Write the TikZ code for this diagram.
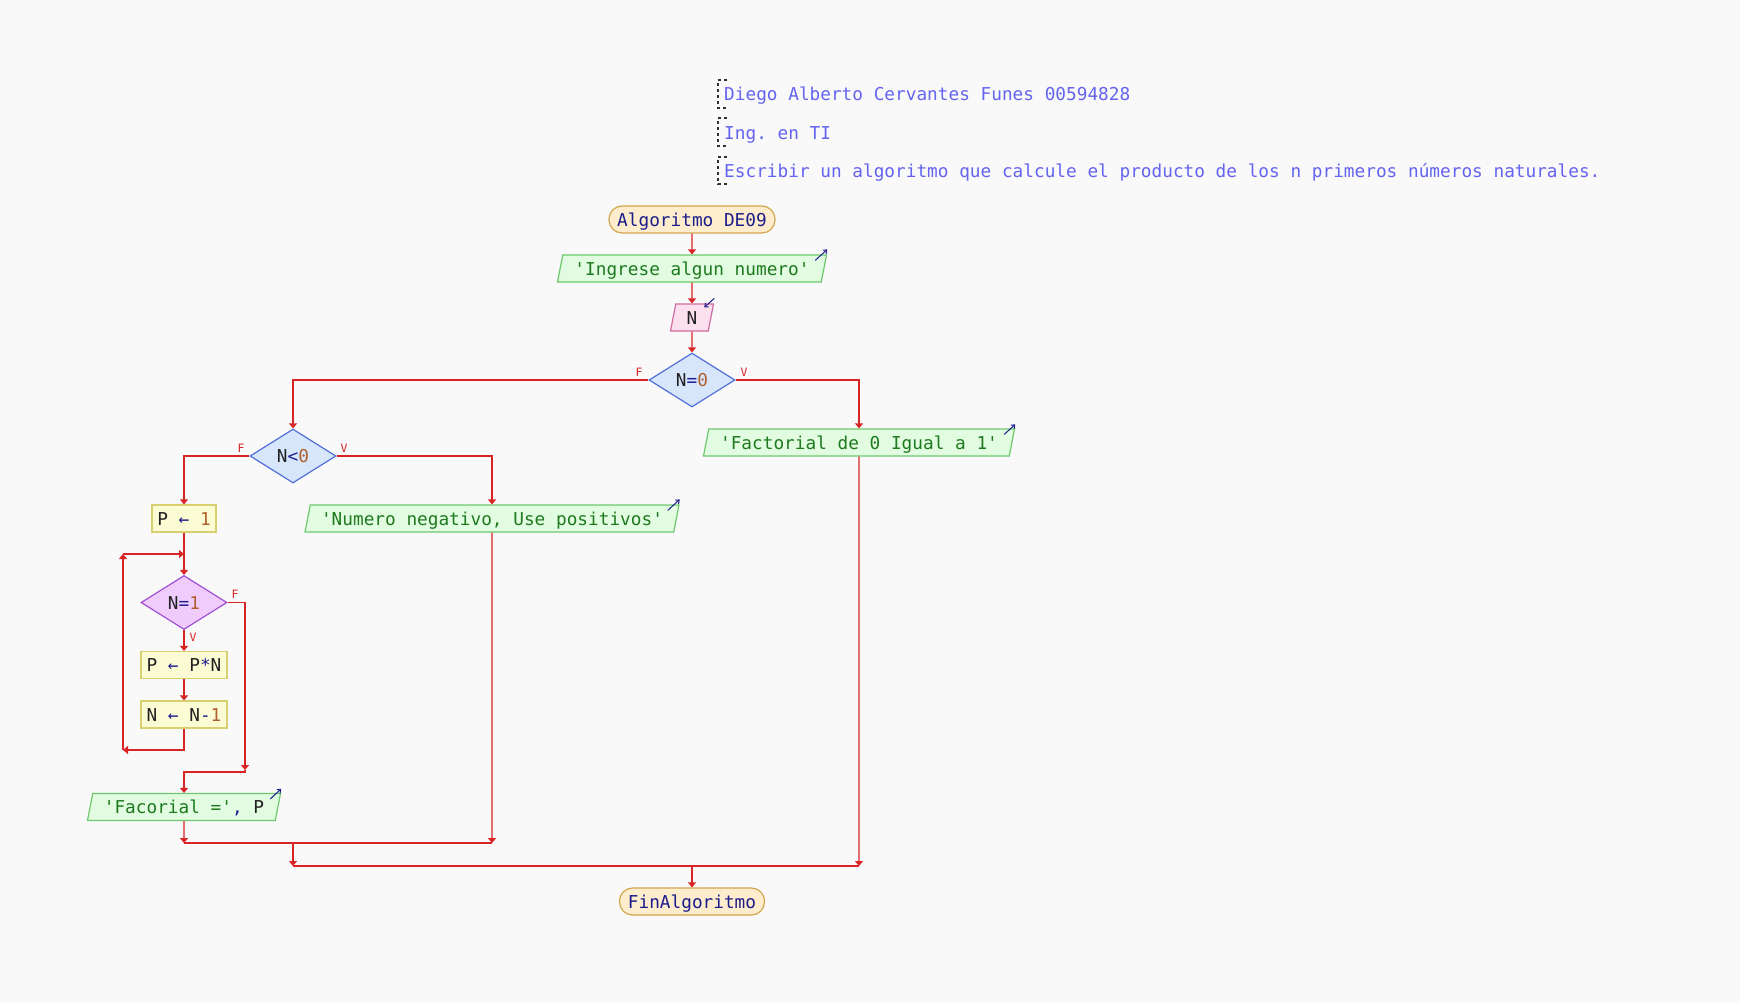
\documentclass[tikz,border=0pt]{standalone}
\usepackage{fontspec}
\setmonofont{DejaVu Sans Mono}
\usetikzlibrary{shapes.geometric,arrows.meta}

% palette
\definecolor{bgc}{HTML}{F9F9F9}
\definecolor{flowred}{HTML}{D82424}
\definecolor{termfill}{HTML}{FDEDCC}
\definecolor{termdraw}{HTML}{D2A64E}
\definecolor{outfill}{HTML}{E2FCE2}
\definecolor{outdraw}{HTML}{6EC86E}
\definecolor{infill}{HTML}{FCE0EE}
\definecolor{indraw}{HTML}{D06CA0}
\definecolor{decfill}{HTML}{D8E6FC}
\definecolor{decdraw}{HTML}{5070D8}
\definecolor{loopfill}{HTML}{F0CCFC}
\definecolor{loopdraw}{HTML}{A050D0}
\definecolor{procfill}{HTML}{FCFCD4}
\definecolor{procdraw}{HTML}{D8D070}
\definecolor{strgreen}{HTML}{1E7A1E}
\definecolor{kwnavy}{HTML}{1C1C8C}
\definecolor{numbrown}{HTML}{B0602E}
\definecolor{txtdark}{HTML}{202020}
\definecolor{cmtblue}{HTML}{6464F0}
\definecolor{cmtmark}{HTML}{303030}

% syntax colouring helpers
\newcommand{\opc}[1]{{\color{kwnavy}#1}}
\newcommand{\numc}[1]{{\color{numbrown}#1}}
\newcommand{\varc}[1]{{\color{txtdark}#1}}
\newcommand{\strc}[1]{{\color{strgreen}#1}}

\begin{document}
\begin{tikzpicture}[x=1pt,y=-1pt,
  every node/.style={font=\ttfamily\fontsize{17.75}{20}\selectfont, inner sep=0pt,
    text height=13pt, text depth=0pt},
  terminal/.style={rectangle, rounded corners=13pt, draw=termdraw, fill=termfill,
    line width=1.2pt, minimum height=27pt, text=kwnavy},
  outbox/.style={trapezium, trapezium left angle=68, trapezium right angle=112,
    trapezium stretches body, draw=outdraw, fill=outfill, line width=1.2pt,
    minimum height=27pt, text=strgreen},
  inbox/.style={trapezium, trapezium left angle=68, trapezium right angle=112,
    trapezium stretches body, draw=indraw, fill=infill, line width=1.2pt,
    minimum height=27pt, text=txtdark},
  decision/.style={diamond, draw=decdraw, fill=decfill, line width=1.2pt,
    minimum width=86pt, minimum height=54pt, text=txtdark},
  loopdec/.style={decision, draw=loopdraw, fill=loopfill},
  procbox/.style={rectangle, draw=procdraw, fill=procfill, line width=1.2pt,
    minimum height=27pt, text=txtdark},
  flow/.style={draw=flowred, line width=1.2pt, -{Triangle[width=8pt,length=5pt]}},
  plainflow/.style={draw=flowred, line width=1.2pt},
  branchlbl/.style={font=\ttfamily\fontsize{11.5}{12}\selectfont, text=flowred,
    text height=8.5pt, text depth=0pt},
  iomark/.style={draw=kwnavy, line width=1pt, -{Straight Barb[length=3pt,width=5pt]}},
  cmtbracket/.style={draw=cmtmark, line width=1.5pt, dash pattern=on 3pt off 3pt},
  comment/.style={anchor=west, text=cmtblue}]

% page
\fill[bgc] (0,0) rectangle (1740,1002);
\useasboundingbox (0,0) rectangle (1740,1002);

% header comments
\draw[cmtbracket] (727,80) -| (718,108) -- (727,108);
\draw[cmtbracket] (727,118) -| (718,146) -- (727,146);
\draw[cmtbracket, line width=2pt] (727,157) -| (718,184) -- (727,184);
\node[comment] (c1) at (724,94) {Diego Alberto Cervantes Funes 00594828};
\node[comment] (c2) at (724,132.5) {Ing. en TI};
\node[comment] (c3) at (724,170.5) {Escribir un algoritmo que calcule el producto de los n primeros números naturales.};

% flowchart nodes
\node[terminal, minimum width=166pt] (start) at (692,219.5) {Algoritmo DE09};
\node[outbox, minimum width=269pt] (in1) at (692,268.5) {'Ingrese algun numero'};
\node[inbox, minimum width=43pt] (readN) at (692,317.5) {N};
\node[decision] (d0) at (692,380) {\varc{N}\opc{=}\numc{0}};
\node[outbox, minimum width=311pt] (outF) at (859,442.5) {'Factorial de 0 Igual a 1'};
\node[decision] (d1) at (293,456) {\varc{N}\opc{<}\numc{0}};
\node[outbox, minimum width=374pt] (outNeg) at (492,518.5) {'Numero negativo, Use positivos'};
\node[procbox, minimum width=64pt] (p1) at (184,518.5) {\varc{P} \opc{←} \numc{1}};
\node[loopdec] (d2) at (184,602.5) {\varc{N}\opc{=}\numc{1}};
\node[procbox, minimum width=86pt] (p2) at (184,665) {\varc{P} \opc{←} \varc{P}\opc{*}\varc{N}};
\node[procbox, minimum width=86pt] (p3) at (184,714.5) {\varc{N} \opc{←} \varc{N}\opc{-}\numc{1}};
\node[outbox, minimum width=193pt] (out3) at (184,807) {'Facorial ='\opc{,} \varc{P}};
\node[terminal, minimum width=145pt] (fin) at (692,901.5) {FinAlgoritmo};

% input/output markers
\draw[iomark] ([xshift=-12pt,yshift=-6pt]in1.top right corner) -- ++(12,-11);
\draw[iomark] ([xshift=-11pt,yshift=-6pt]outF.top right corner) -- ++(11,-10);
\draw[iomark] ([xshift=-12pt,yshift=-6pt]outNeg.top right corner) -- ++(12,-11);
\draw[iomark] ([xshift=-11pt,yshift=-6pt]out3.top right corner) -- ++(11,-10);
\draw[iomark] ([xshift=0pt,yshift=5pt]readN.top right corner) -- ++(-10,9);

% junction points
\coordinate (lpB) at (123,750);
\coordinate (lpC) at (123,554);
\coordinate (lpD) at (184,554);
\coordinate (jA) at (245,770);
\coordinate (jB) at (184,843);
\coordinate (jC) at (492,843);
\coordinate (jD) at (293,843);
\coordinate (jE) at (293,866);
\coordinate (jF) at (859,866);
\coordinate (jG) at (692,866);

% connectors
\draw[flow] (start.south) -- (in1.north);
\draw[flow] (in1.south) -- (readN.north);
\draw[flow] (readN.south) -- (d0.north);
\draw[flow] (d0.west) -| (d1.north);
\draw[flow] (d0.east) -| (outF.north);
\draw[flow] (d1.west) -| (p1.north);
\draw[flow] (d1.east) -| (outNeg.north);
\draw[flow] (p1.south) -- (d2.north);
\draw[flow] (d2.south) -- (p2.north);
\draw[flow] (p2.south) -- (p3.north);
\draw[flow] (p3.south) |- (lpB);
\draw[flow] (lpB) -- (lpC);
\draw[flow] (lpC) -- (lpD);
\draw[flow] (d2.east) -| (jA);
\draw[flow] (jA) -- ++(0,2) -| (out3.north);
\draw[flow] (out3.south) -- (jB);
\draw[plainflow] (jB) -- (jC);
\draw[flow] (outNeg.south) -- (jC);
\draw[flow] (jD) -- (jE);
\draw[plainflow] (jE) -- (jF);
\draw[flow] (outF.south) -- (jF);
\draw[flow] (jG) -- (fin.north);

% branch labels
\node[branchlbl] (f0) at (639,372) {F};
\node[branchlbl] (v0) at (744,372) {V};
\node[branchlbl] (f1) at (241,448) {F};
\node[branchlbl] (v1) at (344,448) {V};
\node[branchlbl] (f2) at (235,594) {F};
\node[branchlbl] (v2) at (193,637) {V};
\end{tikzpicture}
\end{document}
